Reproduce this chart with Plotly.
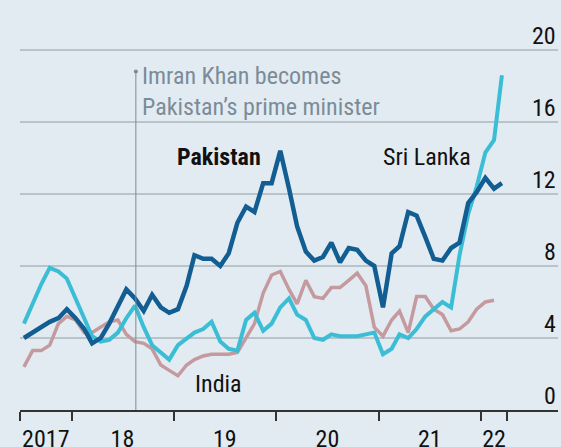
import plotly.graph_objects as go
import pandas as pd

# monthly readings, Jul 2017 - Mar 2022 (plotted mid-month)
months = pd.date_range("2017-07-01", "2022-03-01", freq="MS") + pd.Timedelta(days=14)

pakistan = [4.0, 4.3, 4.6, 4.9, 5.1, 5.6, 5.1, 4.5, 3.7, 4.0, 4.8, 5.7,
            6.7, 6.2, 5.5, 6.4, 5.7, 5.4, 5.6, 6.9, 8.6, 8.4, 8.4, 8.0,
            8.7, 10.4, 11.3, 11.0, 12.6, 12.6, 14.4, 12.3, 10.2, 8.8, 8.3, 8.5,
            9.3, 8.2, 9.0, 8.9, 8.3, 8.0, 5.7, 8.7, 9.1, 11.0, 10.8, 9.6,
            8.4, 8.3, 9.0, 9.3, 11.5, 12.1, 12.9, 12.3, 12.6]
sri_lanka = [4.8, 5.9, 7.0, 7.9, 7.7, 7.3, 6.2, 5.0, 4.1, 3.8, 3.9, 4.3,
             5.1, 5.8, 4.6, 3.6, 3.2, 2.8, 3.6, 4.0, 4.3, 4.5, 4.9, 3.8,
             3.4, 3.3, 5.0, 5.4, 4.4, 4.8, 5.7, 6.2, 5.3, 5.0, 4.0, 3.9,
             4.2, 4.1, 4.1, 4.1, 4.2, 4.3, 3.1, 3.4, 4.2, 4.0, 4.5, 5.2,
             5.6, 6.0, 5.7, 8.6, 10.9, 12.4, 14.3, 15.0, 18.6]
india = [2.4, 3.3, 3.3, 3.6, 4.8, 5.2, 5.0, 4.3, 4.3, 4.6, 4.9, 5.0,
         4.2, 3.8, 3.7, 3.4, 2.5, 2.2, 1.9, 2.5, 2.8, 3.0, 3.1, 3.1,
         3.1, 3.2, 4.0, 4.8, 6.5, 7.5, 7.7, 6.7, 5.9, 7.2, 6.3, 6.2,
         6.8, 6.8, 7.2, 7.6, 6.9, 4.6, 4.1, 5.0, 5.5, 4.3, 6.3, 6.3,
         5.6, 5.3, 4.4, 4.5, 4.9, 5.6, 6.0, 6.1]

year_bounds = ["2017-07-01", "2018-01-01", "2019-01-01", "2020-01-01",
               "2021-01-01", "2022-01-01", "2022-04-01"]
year_mids = ["2017-10-01", "2018-07-01", "2019-07-01", "2020-07-01",
             "2021-07-01", "2022-02-15"]
year_labels = ["2017", "18", "19", "20", "21", "22"]
y_ticks = [4, 8, 12, 16, 20]

khan_date = "2018-08-18"

FONT = "Liberation Sans Narrow, Roboto Condensed, Roboto, sans-serif"
BG = "#e2ebf2"
GREY = "#7b8c98"

fig = go.Figure()

fig.add_shape(type="line", x0=khan_date, x1=khan_date, y0=0, y1=18.8,
              line=dict(color="#7d8a93", width=1))
fig.add_trace(go.Scatter(x=[khan_date], y=[18.8], mode="markers",
                         marker=dict(color="#7d8a93", size=4), hoverinfo="skip"))

fig.add_trace(go.Scatter(x=months[:len(india)], y=india, mode="lines",
                         line=dict(color="#c59a9e", width=3.5)))
fig.add_trace(go.Scatter(x=months, y=sri_lanka, mode="lines",
                         line=dict(color="#3bbdd5", width=4)))
fig.add_trace(go.Scatter(x=months, y=pakistan, mode="lines",
                         line=dict(color="#125d92", width=4.5)))

fig.add_annotation(x=khan_date, y=19.45, text="Imran Khan becomes<br>Pakistan’s prime minister",
                   showarrow=False, xanchor="left", yanchor="top", xshift=4, align="left",
                   font=dict(family=FONT, size=24, color=GREY))
fig.add_annotation(x="2019-06-10", y=14.05, text="<b>Pakistan</b>", showarrow=False,
                   font=dict(family=FONT, size=24, color="#111111"))
fig.add_annotation(x="2021-06-20", y=14.05, text="Sri Lanka", showarrow=False,
                   font=dict(family=FONT, size=24, color="#111111"))
fig.add_annotation(x="2019-06-10", y=1.45, text="India", showarrow=False,
                   font=dict(family=FONT, size=24, color="#111111"))

# y labels sit above the gridlines at the right edge
for v in [0] + y_ticks:
    fig.add_annotation(xref="paper", x=1, y=v, yanchor="bottom", xanchor="right",
                       text=str(v), showarrow=False, yshift=-2,
                       font=dict(family=FONT, size=24, color="#111111"))

fig.update_layout(
    width=561, height=447,
    margin=dict(l=20, r=3, t=41, b=37),
    plot_bgcolor=BG, paper_bgcolor=BG,
    showlegend=False,
    font=dict(family=FONT, size=24, color="#111111"),
)
fig.update_xaxes(type="date", range=["2017-07-01", "2022-10-01"],
                 tickvals=year_mids, ticktext=year_labels, ticks="",
                 ticklabelstandoff=6, automargin=False,
                 showgrid=False, zeroline=False,
                 showline=True, linecolor="#333333", linewidth=2,
                 minor=dict(tickvals=year_bounds, ticks="outside", ticklen=9,
                            tickcolor="#333333", tickwidth=2, showgrid=False),
                 tickfont=dict(size=24))
fig.update_yaxes(range=[0, 20.5], tickvals=y_ticks, showticklabels=False, ticks="",
                 automargin=False, showgrid=True, gridcolor="#b9c3ca", gridwidth=1.5,
                 zeroline=False)

fig.write_html("out.html", config={"displayModeBar": False},
               post_script="document.body.style.margin='0';"
                           "document.body.style.background='" + BG + "';")
